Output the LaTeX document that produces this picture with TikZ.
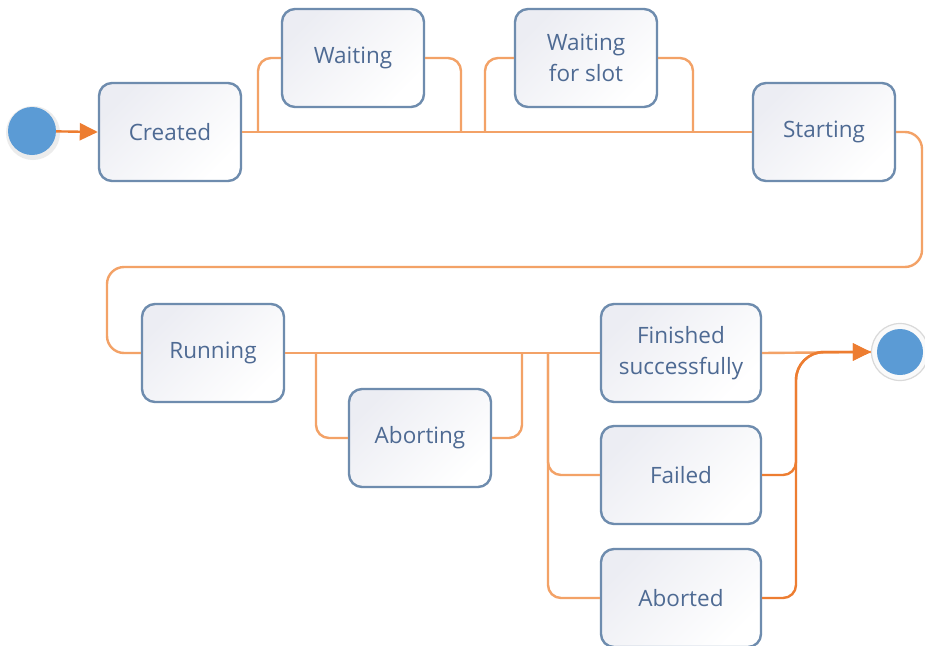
\documentclass[tikz,border=0pt]{standalone}
\usepackage{fontspec}
\setmainfont{Open Sans}
\usetikzlibrary{arrows.meta}
\definecolor{lineor}{HTML}{F3A267}
\definecolor{arrowor}{HTML}{ED7D31}
\definecolor{boxborder}{HTML}{6E8CAE}
\definecolor{boxtext}{HTML}{4E6A93}
\definecolor{boxshade}{HTML}{ECEDF3}
\definecolor{dotblue}{HTML}{5B9BD5}
\tikzset{
  state/.style={draw=boxborder, line width=2.4pt, rounded corners=13pt,
    top color=boxshade, bottom color=white, shading angle=45,
    minimum width=142pt, minimum height=98pt, align=center, inner sep=0pt,
    text=boxtext, font=\fontsize{22.5}{31}\selectfont},
  wide/.style={minimum width=160pt},
  conn/.style={draw=lineor, line width=2.4pt, rounded corners=13pt},
  bigconn/.style={draw=lineor, line width=2.4pt, rounded corners=17pt},
  arr/.style={draw=arrowor, line width=2.4pt, rounded corners=26pt,
    -{Triangle[length=18pt,width=17pt]}},
  dot/.style={circle, fill=dotblue, minimum size=48pt, inner sep=0pt},
}
\begin{document}
\begin{tikzpicture}[x=1pt,y=-1pt]
\path[use as bounding box, clip] (0,0) rectangle (925,645);
\fill[white] (0,0) rectangle (925,645);
% nodes
\fill[gray!15] (33,133) circle (27);
\node[dot] (start) at (32,131) {};
\node[state] (created) at (170,132) {Created};
\node[state] (waiting) at (353,58) {Waiting};
\node[state] (wslot) at (586,58) {Waiting\\for slot};
\node[state] (starting) at (824,132) {Starting};
\node[state] (running) at (213,353) {Running};
\node[state] (aborting) at (420,438) {Aborting};
\node[state,wide] (finished) at (681,353) {Finished\\successfully};
\node[state,wide] (failed) at (681,475) {Failed};
\node[state,wide] (aborted) at (681,598) {Aborted};
\node[circle, draw=gray!30, line width=1.2pt, fill=gray!4, minimum size=57pt, inner sep=0pt] (end) at (900,352) {};
\node[dot, minimum size=46pt] (endin) at (900,352) {};
% junction coordinates
\coordinate (j1) at (258,131);
\coordinate (j2) at (461,131);
\coordinate (j3) at (485,131);
\coordinate (j4) at (693,131);
\coordinate (r1) at (922,267);
\coordinate (r2) at (107,267);
\coordinate (k1) at (316,353);
\coordinate (k2) at (522,353);
\coordinate (k3) at (548,353);
\coordinate (m1) at (796,420);
% connectors
\draw[arr, rounded corners=0pt] (start) -- (created.west);
\draw[conn] (created.east) -- (starting.west);
\draw[conn] (j1) |- (waiting.west);
\draw[conn] (waiting.east) -| (j2);
\draw[conn] (j3) |- (wslot.west);
\draw[conn] (wslot.east) -| (j4);
\draw[bigconn] (starting.east) -| (r1) -- (r2) |- (running.west);
\draw[conn] (running.east) -- (finished.west);
\draw[conn] (k1) |- (aborting.west);
\draw[conn] (aborting.east) -| (k2);
\draw[conn] (k3) |- (failed.west);
\draw[conn] (k3) |- (aborted.west);
\draw[conn] (finished.east) -- (end.west);
\draw[arr] (failed.east) [rounded corners=13pt] -| (m1) [rounded corners=28pt] |- (end.west);
\draw[arr] (aborted.east) [rounded corners=13pt] -| (m1) [rounded corners=28pt] |- (end.west);
\end{tikzpicture}
\end{document}
